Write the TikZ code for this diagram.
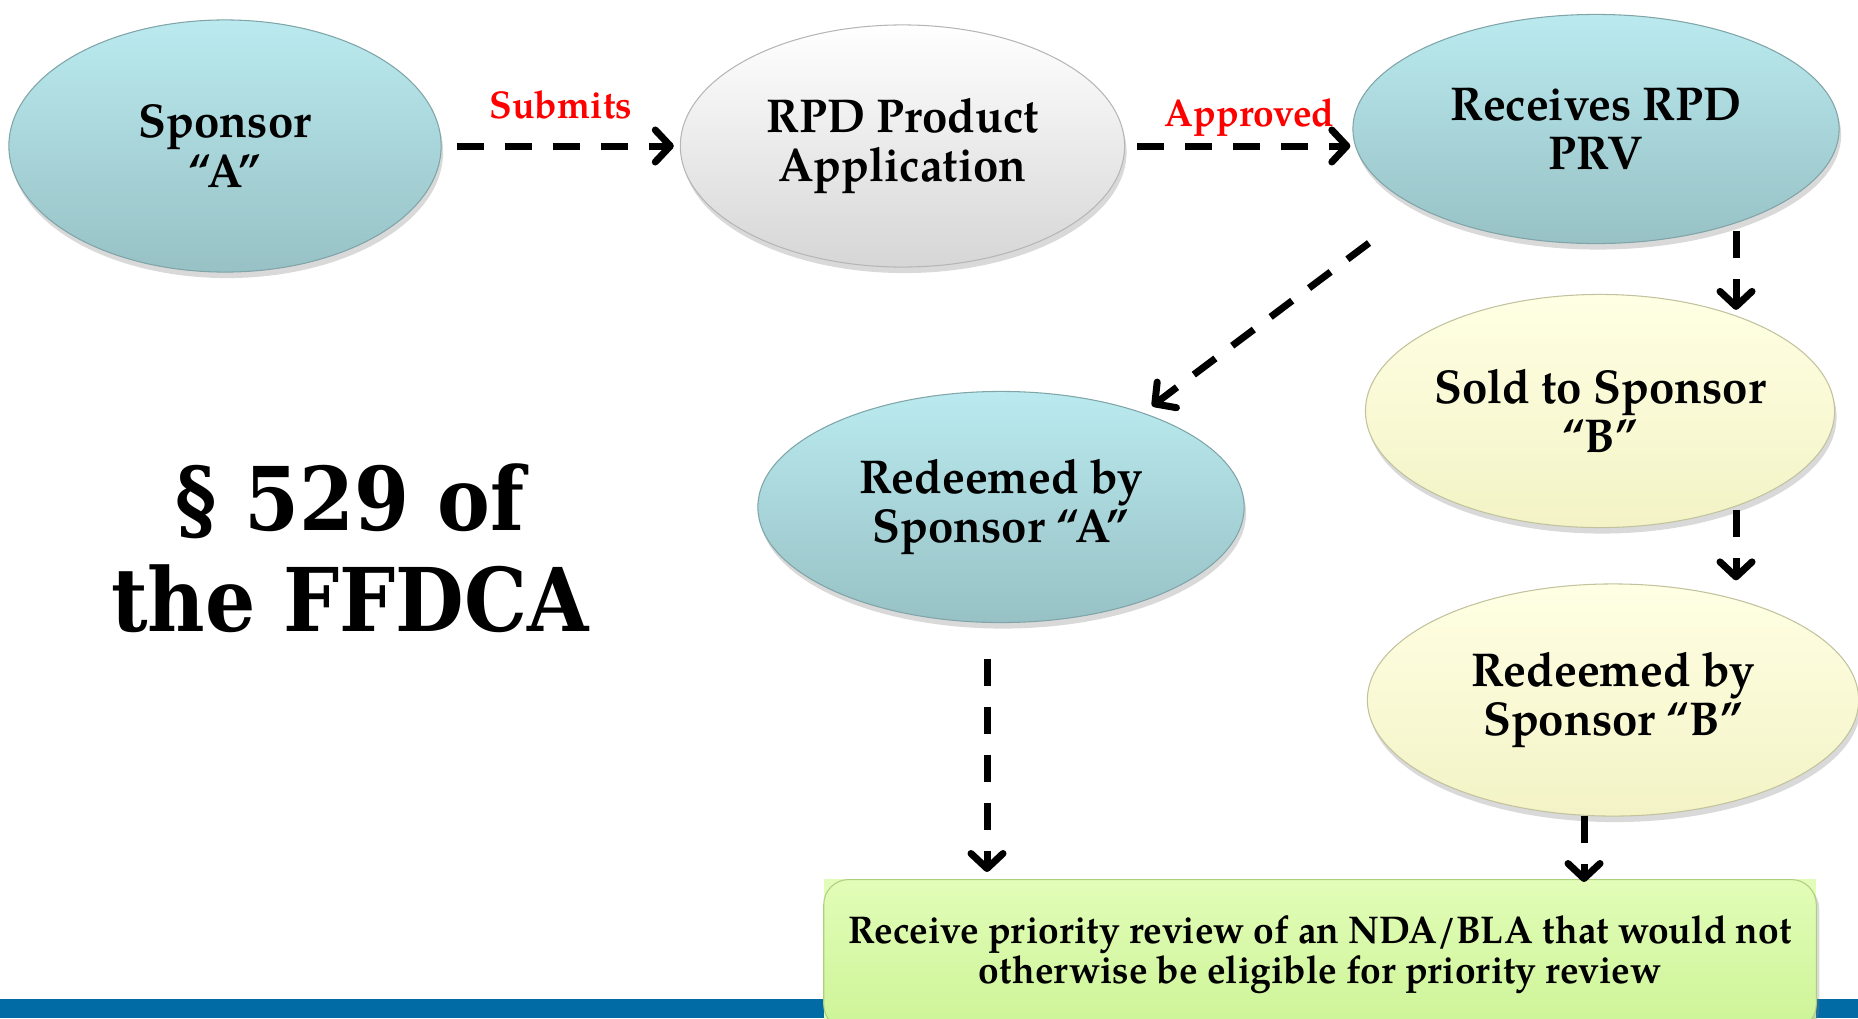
\documentclass[tikz,border=0pt]{standalone}
\usepackage{fontspec}
\setmainfont{texgyrepagella}[Extension=.otf, UprightFont=*-regular, BoldFont=*-bold, ItalicFont=*-italic, BoldItalicFont=*-bolditalic, FakeStretch=0.96]
\newfontfamily\lawfont{DejaVu Serif}[FakeStretch=0.9]
\usetikzlibrary{arrows.meta}
\usetikzlibrary{calc}
\usetikzlibrary{positioning}
\usetikzlibrary{shapes.geometric}
\usetikzlibrary{shadows}

\definecolor{aquatop}{HTML}{BAEAEF}
\definecolor{aquabot}{HTML}{97C1C5}
\definecolor{pearltop}{HTML}{FFFFFF}
\definecolor{pearlbot}{HTML}{D6D6D6}
\definecolor{creamtop}{HTML}{FFFFE4}
\definecolor{creambot}{HTML}{F3F3C6}
\definecolor{limetop}{HTML}{E2FDB8}
\definecolor{limebot}{HTML}{CDF497}
\definecolor{barblue}{HTML}{006BA4}

\tikzset{
  bubble/.style={ellipse, inner sep=0pt, align=center, line width=0.3pt,
    font=\fontsize{13.5}{14}\selectfont\bfseries,
    drop shadow={shadow xshift=0.02cm, shadow yshift=-0.06cm, opacity=0.3}},
  aqua/.style={bubble, top color=aquatop, bottom color=aquabot, draw=aquabot!85!black},
  pearl/.style={bubble, top color=pearltop, bottom color=pearlbot, draw=pearlbot!85!black},
  cream/.style={bubble, top color=creamtop, bottom color=creambot, draw=creambot!80!black},
  flow/.style={line width=0.07cm, dash pattern=on 0.27cm off 0.21cm,
    -{Straight Barb[length=0.15cm,width=0.32cm,round]}},
  verb/.style={text=red, font=\fontsize{11}{12}\selectfont\bfseries}
}

\begin{document}
\begin{tikzpicture}[x=0.01cm,y=-0.01cm]
		\useasboundingbox (0,0) rectangle (1858,1018);
		\fill[barblue] (0,999) rectangle (1858,1018);
		% bubbles
		\node[aqua, minimum width=4.32cm, minimum height=2.52cm] (spA) at (225,146) {Sponsor\\“A”};
		\node[pearl, minimum width=4.44cm, minimum height=2.42cm, right=2.38cm of spA] (rpd) {RPD Product\\Application};
		\node[aqua, minimum width=4.86cm, minimum height=2.29cm] (prv) at (1596,129) {Receives RPD\\PRV};
		\node[cream, minimum width=4.66cm, minimum height=2.33cm] (soldB) at (1600,411) {Sold to Sponsor\\“B”};
		\node[cream, minimum width=4.91cm, minimum height=2.32cm] (redB) at (1613,700) {Redeemed by\\Sponsor “B”};
		\node[aqua, minimum width=4.86cm, minimum height=2.31cm] (redA) at (1001,507) {Redeemed by\\Sponsor “A”};
		\node[font=\lawfont\bfseries\fontsize{25}{28.6}\selectfont, align=center] (law) at (350,548) {§ 529 of\\the FFDCA};
		% outcome box
		\fill[limetop] (824,879) rectangle (1816,1029);
		\node[rounded corners=0.25cm, top color=limetop, bottom color=limebot, draw=limebot!85!black, line width=0.3pt,
			drop shadow={shadow xshift=0.03cm, shadow yshift=-0.04cm, opacity=0.3},
			minimum width=9.92cm, minimum height=1.5cm, anchor=north, align=center,
			font=\fontsize{11}{11.4}\selectfont\bfseries] (prio) at (1320,879)
			{Receive priority review of an NDA/BLA that would not\\otherwise be eligible for priority review};
		% connectors
		\draw[flow, shorten <=0.15cm, shorten >=0.06cm] (spA.east) -- (spA.east -| rpd.west) node[verb, midway, above=0.12cm]{Submits};
		\draw[flow, shorten <=0.12cm, shorten >=0.02cm] (rpd.east) -- (rpd.east -| prv.west) node[verb, midway, above=-0.06cm, xshift=0.11cm]{Approved};
		\draw[flow] ($(prv.center)+(-227,114)$) -- ($(redA.center)+(151,-101)$);
		\draw[flow] ($(prv.south)+(140,-13)$) -- ($(soldB.north)+(136,16)$);
		\draw[flow] ($(soldB.south)+(136,-18)$) -- ($(redB.north)+(123,-3)$);
		\draw[flow] ($(redB.south)+(-29,-1)$) -- ($(prio.north)+(264,3)$);
		\draw[flow] ($(redA.south)+(-14,36)$) -- ($(prio.north)+(-333,-7)$);
	\end{tikzpicture}
\end{document}
